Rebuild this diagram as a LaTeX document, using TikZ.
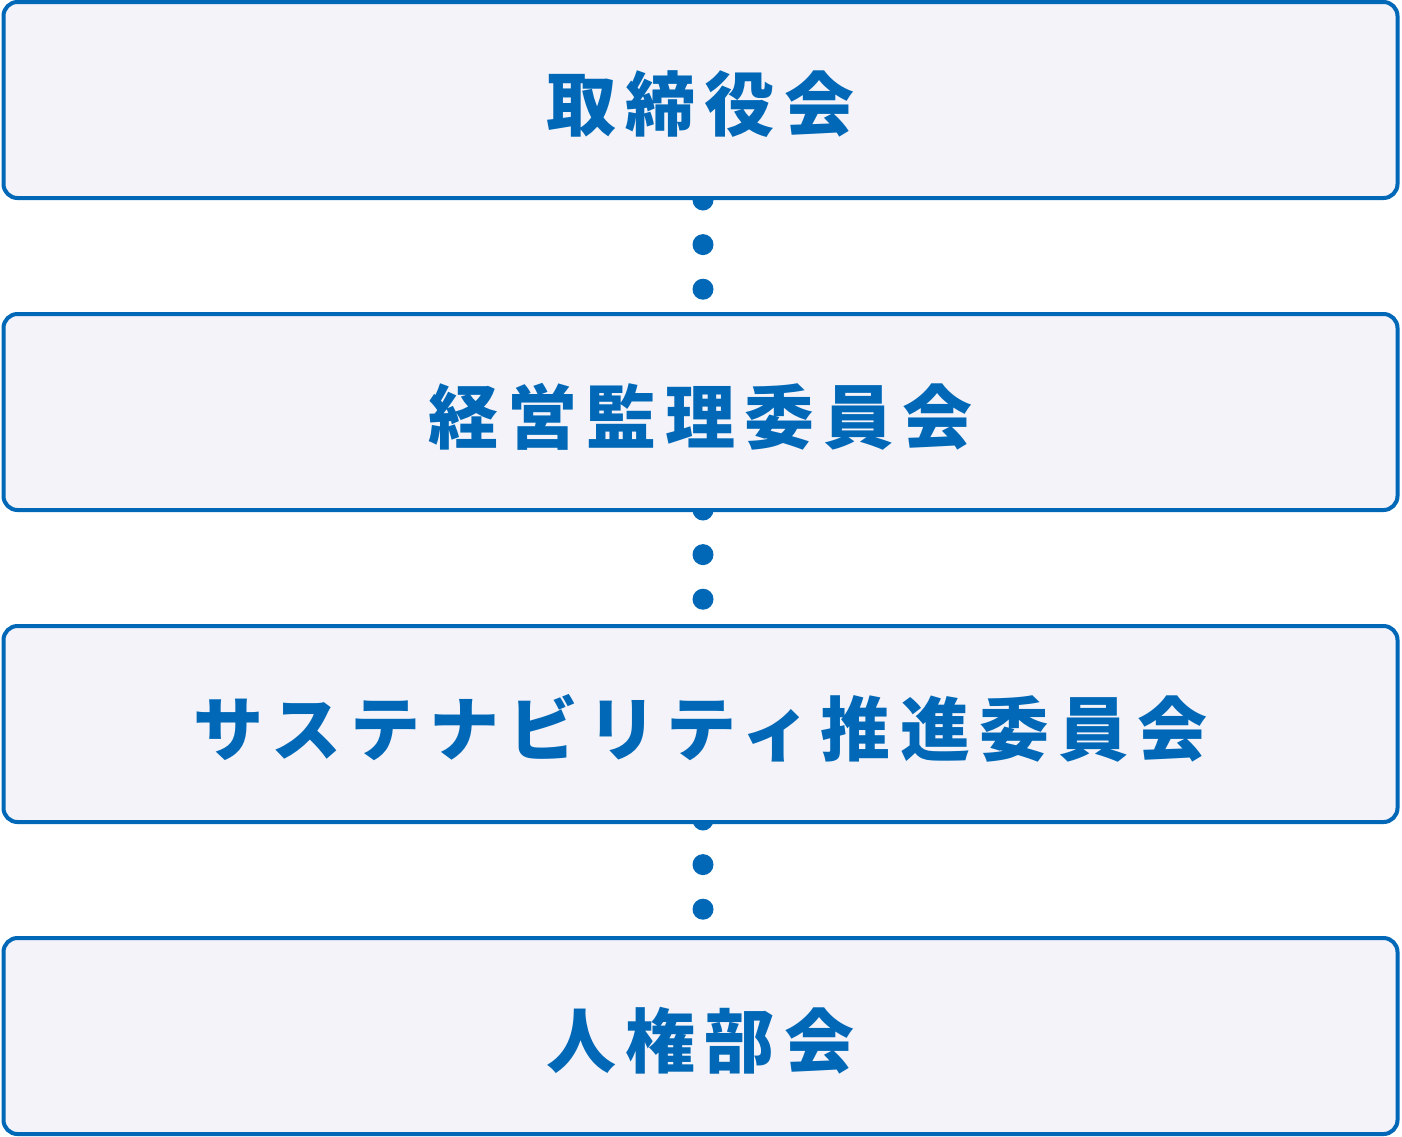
\documentclass[tikz,border=0pt]{standalone}
\usepackage{fontspec}
\newfontfamily\jpfont[LetterSpace=13]{Noto Sans CJK JP}
\usetikzlibrary{backgrounds}
\definecolor{boxblue}{RGB}{0,104,183}
\definecolor{boxfill}{RGB}{243,243,249}
\newcommand{\orgtext}[1]{\raisebox{-4.5pt}[\height][\depth]{#1}}
\tikzset{
  orgbox/.style={draw=boxblue, fill=boxfill, line width=4pt, rounded corners=14pt,
    minimum width=1394pt, minimum height=196pt, inner sep=0pt,
    text=boxblue, font=\jpfont\bfseries\fontsize{70}{84}\selectfont},
  dotlink/.style={draw=boxblue, line width=21pt, line cap=round,
    dash pattern=on 0pt off 44.6pt}
}
\begin{document}
\begin{tikzpicture}[x=1pt,y=-1pt]
\useasboundingbox (0,0) rectangle (1402,1136);
\node[orgbox] (n1) at (700.5,100) {\orgtext{取締役会}};
\node[orgbox] (n2) at (700.5,412) {\orgtext{経営監理委員会}};
\node[orgbox] (n3) at (700.5,724) {\orgtext{サステナビリティ推進委員会}};
\node[orgbox] (n4) at (700.5,1036) {\orgtext{人権部会}};
\begin{scope}[on background layer]
\draw[dotlink] ([xshift=2.5pt]n1.south) -- ([xshift=2.5pt]n2.north);
\draw[dotlink] ([xshift=2.5pt,yshift=2pt]n2.south) -- ([xshift=2.5pt]n3.north);
\draw[dotlink] ([xshift=2.5pt,yshift=4pt]n3.south) -- ([xshift=2.5pt]n4.north);
\end{scope}
\end{tikzpicture}
\end{document}
